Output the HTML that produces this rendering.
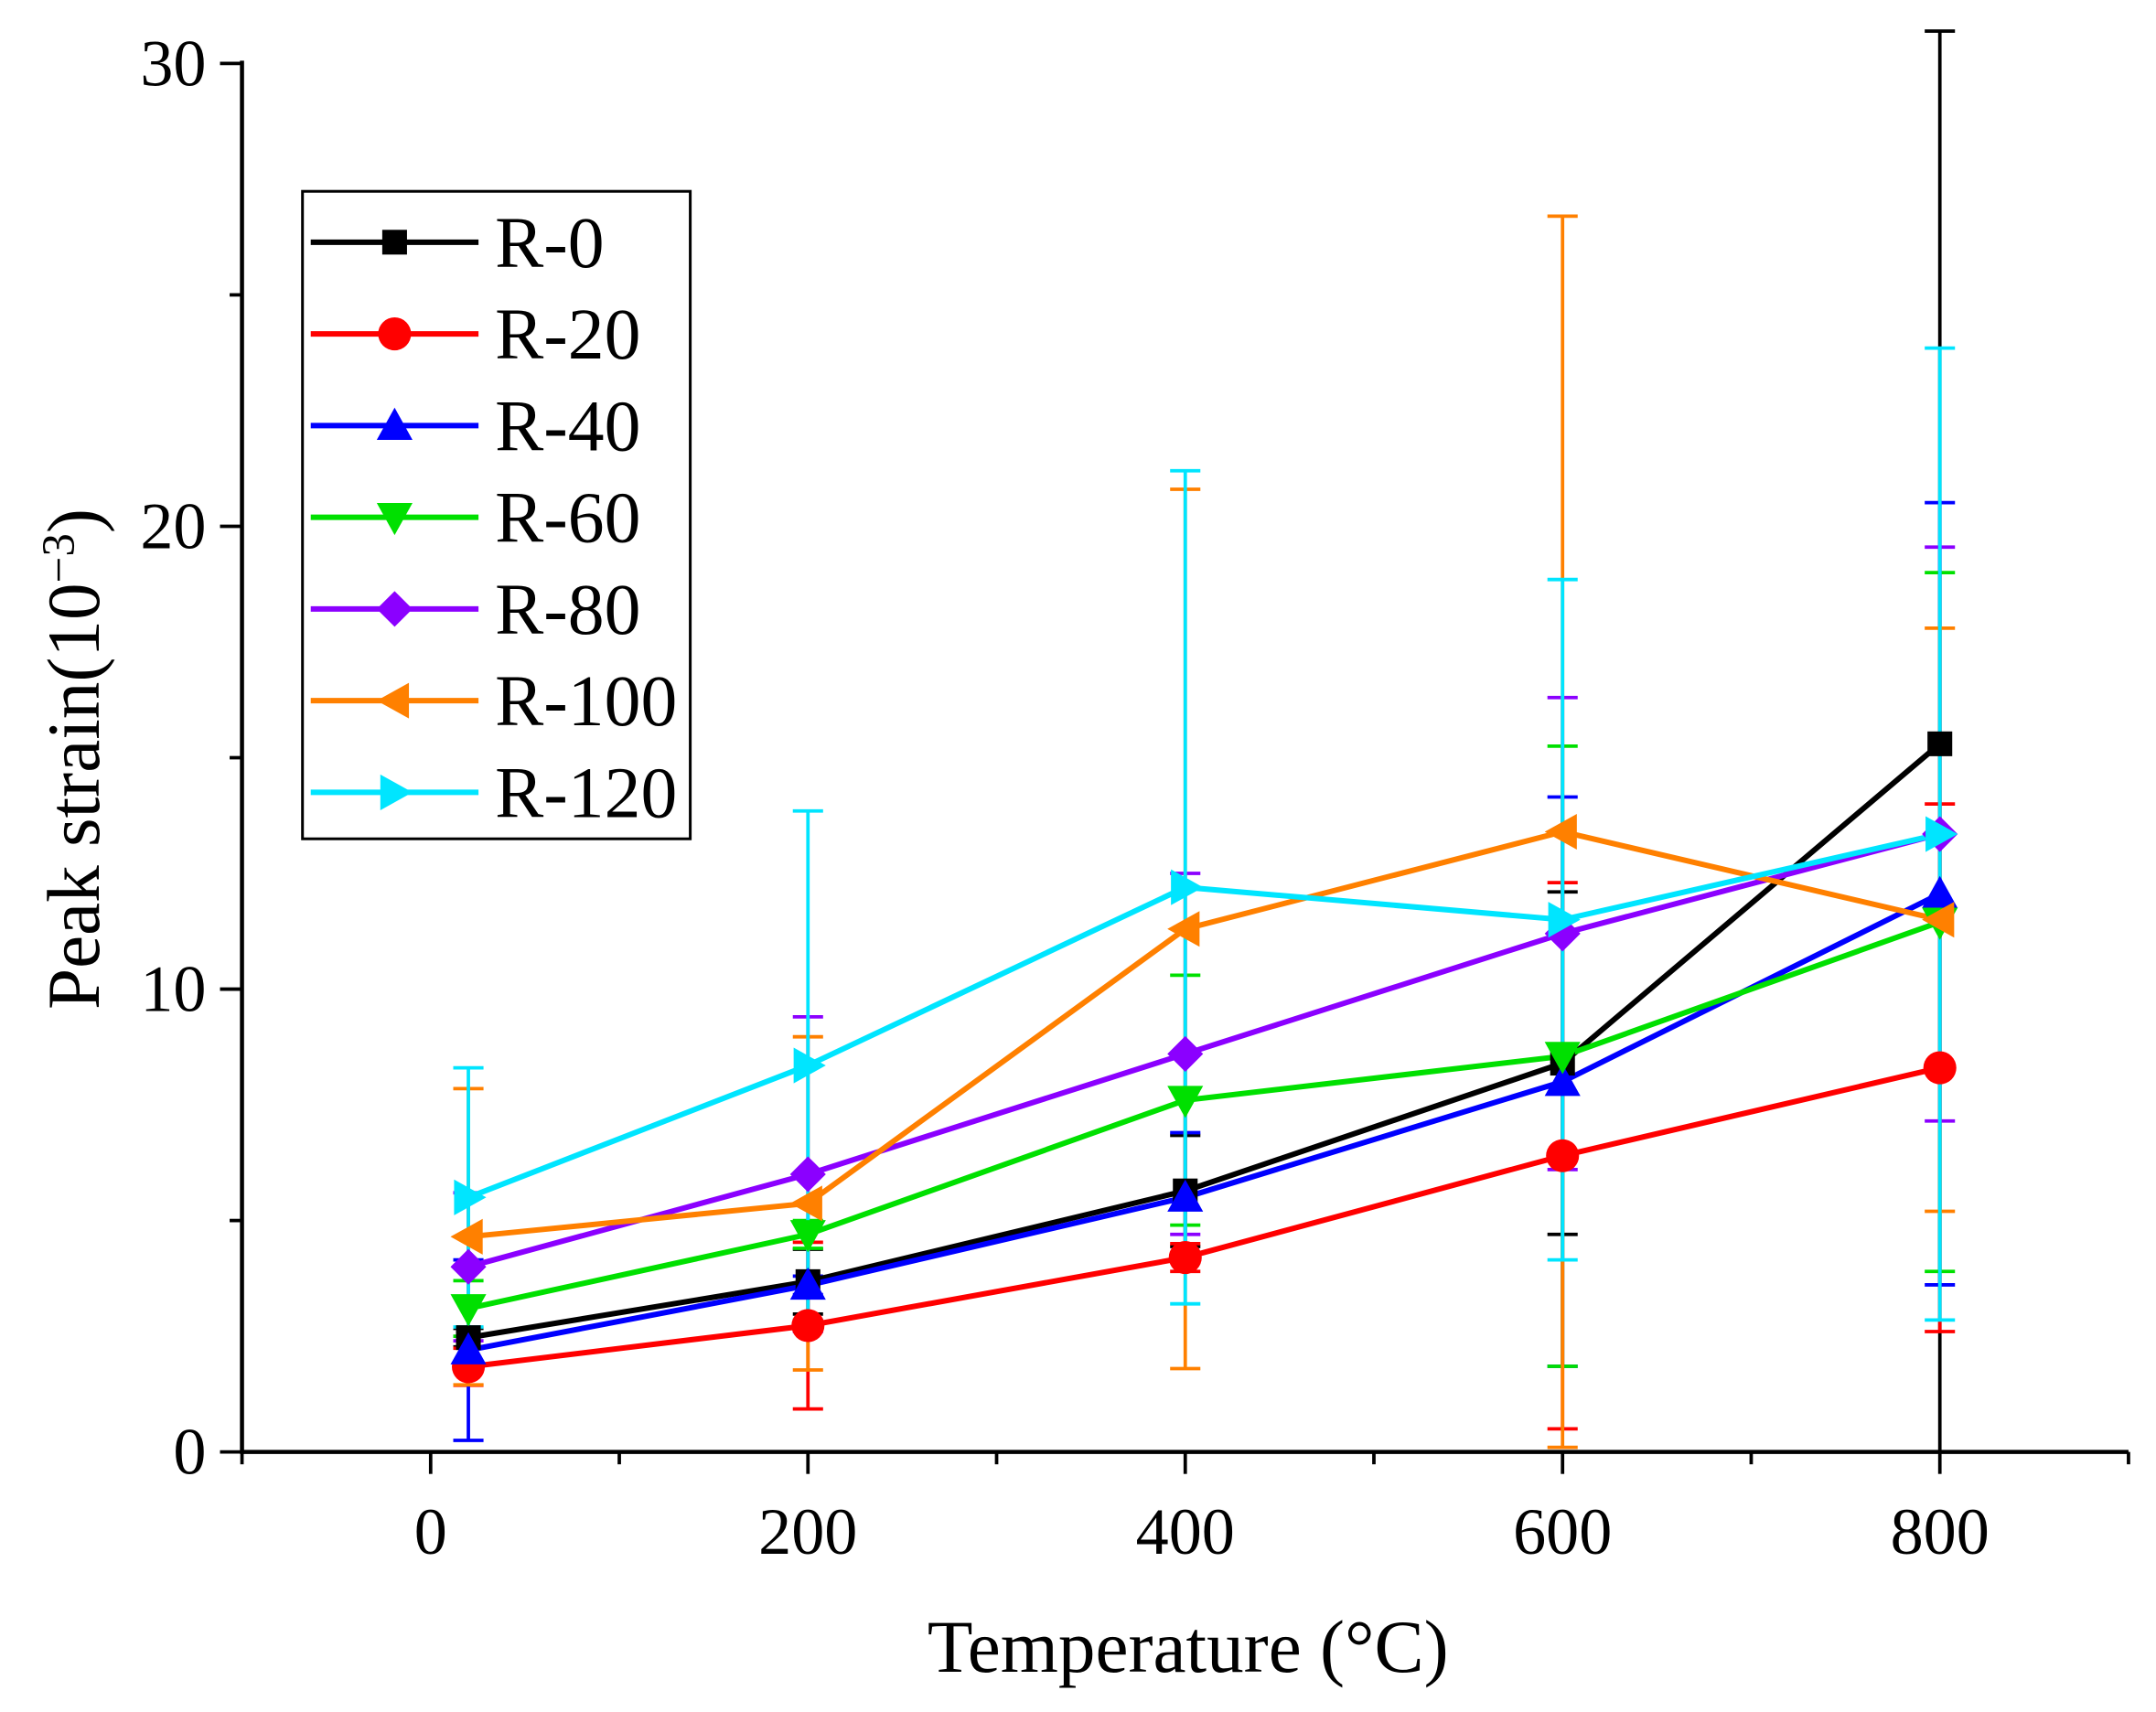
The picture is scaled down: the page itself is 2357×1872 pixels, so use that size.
<!DOCTYPE html>
<html><head><meta charset="utf-8"><style>
html,body{margin:0;padding:0;background:#fff;}
svg{display:block;font-family:"Liberation Serif",serif;}
</style></head><body>
<svg id="chart" width="2357" height="1872" viewBox="0 0 1568 1245" xmlns="http://www.w3.org/2000/svg">
<g id="errs"></g>
<g id="lines"></g>
<g id="marks"></g>
<g id="axes"></g>
<g id="legend"></g>
</svg>
<script>
const temps = [20, 200, 400, 600, 800];
const seriesNames = ["R-0","R-20","R-40","R-60","R-80","R-100","R-120"];
const seriesColors = ["#000000","#ff0000","#0000ff","#00e000","#8b00ff","#ff8000","#00e5ff"];
const seriesMarkers = ["square","circle","up","down","diamond","left","right"];
const r0 = [2.47, 3.68, 5.64, 8.4, 15.3];
const r20 = [1.84, 2.73, 4.2, 6.4, 8.3];
const r40 = [2.2, 3.6, 5.5, 8.0, 12.06];
const r60 = [3.1, 4.7, 7.6, 8.55, 11.45];
const r80 = [4.0, 6.0, 8.6, 11.2, 13.35];
const r100 = [4.65, 5.37, 11.3, 13.4, 11.5];
const r120 = [5.5, 8.35, 12.2, 11.5, 13.35];
const e0 = [0.2, 0.7, 1.2, 3.7, 15.4];
const e20 = [0.4, 1.8, 0.3, 5.9, 5.7];
const e40 = [1.95, 0.2, 1.4, 6.15, 8.45];
const e60 = [0.6, 0.3, 2.7, 6.7, 7.55];
const e80 = [1.6, 3.4, 3.9, 5.1, 6.2];
const e100 = [3.2, 3.6, 9.5, 13.3, 6.3];
const e120 = [2.8, 5.5, 9.0, 7.35, 10.5];
const xTicks = [0, 200, 400, 600, 800];
const yTicks = [0, 10, 20, 30];

const values = [r0,r20,r40,r60,r80,r100,r120];
const errors = [e0,e20,e40,e60,e80,e100,e120];
const NS = "http://www.w3.org/2000/svg";
const X0 = 176, X1 = 1548, Y0 = 1056, Y1 = 46;
const xs = v => X0 + (v + 100) / 1000 * (X1 - X0);
const ys = v => Y0 - v / 30 * (Y0 - Y1);
function mk(tag, attrs, parent){const e=document.createElementNS(NS,tag);for(const k in attrs)e.setAttribute(k,attrs[k]);parent.appendChild(e);return e;}
function marker(type, cx, cy, color, parent){
  const s=13; let el;
  if(type==="square") el=mk("rect",{x:cx-9,y:cy-9,width:18,height:18,fill:color},parent);
  else if(type==="circle") el=mk("circle",{cx:cx,cy:cy,r:12,fill:color},parent);
  else {
    let p;
    if(type==="up") p=[[0,-s],[s,s*0.8],[-s,s*0.8]];
    else if(type==="down") p=[[0,s],[s,-s*0.8],[-s,-s*0.8]];
    else if(type==="diamond") p=[[0,-s],[s,0],[0,s],[-s,0]];
    else if(type==="left") p=[[-s,0],[s*0.8,-s],[s*0.8,s]];
    else p=[[s,0],[-s*0.8,-s],[-s*0.8,s]];
    el=mk("polygon",{points:p.map(q=>(cx+q[0])+","+(cy+q[1])).join(" "),fill:color},parent);
  }
  return el;
}
const gE=document.getElementById("errs"), gL=document.getElementById("lines"), gM=document.getElementById("marks");
values.forEach((vals,si)=>{
  const c=seriesColors[si];
  vals.forEach((v,i)=>{
    const x=xs(temps[i]), hi=ys(v+errors[si][i]), lo=ys(Math.max(0,v-errors[si][i]));
    const g=mk("g",{stroke:c,"stroke-width":2.5},gE);
    
    
    mk("line",{x1:x,x2:x,y1:hi,y2:lo},g);
    mk("line",{x1:x-11,x2:x+11,y1:hi,y2:hi},g);
    mk("line",{x1:x-11,x2:x+11,y1:lo,y2:lo},g);
  });
  const pl=mk("polyline",{points:vals.map((v,i)=>xs(temps[i])+","+ys(v)).join(" "),fill:"none",stroke:c,"stroke-width":4},gL);
  
  
  vals.forEach((v,i)=>{
    const m=marker(seriesMarkers[si],xs(temps[i]),ys(v),c,gM);
    
    
  });
});
const gA=document.getElementById("axes");
mk("line",{x1:X0,x2:X1,y1:Y0,y2:Y0,stroke:"#000","stroke-width":3},gA);
mk("line",{x1:X0,x2:X0,y1:Y0+1.5,y2:Y1-2,stroke:"#000","stroke-width":3},gA);
for(let v=-100;v<=900;v+=100){
  const major=xTicks.includes(v);
  mk("line",{x1:xs(v),x2:xs(v),y1:Y0,y2:Y0+(major?16:9),stroke:"#000","stroke-width":2.5},gA);
}
xTicks.forEach(v=>{const t=mk("text",{x:xs(v),y:Y0+74,"font-size":48,"text-anchor":"middle"},gA);t.textContent=v;
  });
for(let v=0;v<=30;v+=5){
  const major=yTicks.includes(v);
  mk("line",{x1:X0,x2:X0-(major?16:9),y1:ys(v),y2:ys(v),stroke:"#000","stroke-width":2.5},gA);
}
yTicks.forEach(v=>{const t=mk("text",{x:X0-26,y:ys(v)+16,"font-size":48,"text-anchor":"end"},gA);t.textContent=v;
  });
const xt=mk("text",{x:864,y:1216,"font-size":54,"text-anchor":"middle"},gA);
xt.textContent="Temperature (°C)";

const yt=mk("text",{x:0,y:0,"font-size":54,"text-anchor":"middle",transform:"translate(72,552) rotate(-90)"},gA);
yt.innerHTML='Peak strain(10<tspan dy="-18" font-size="34">−3</tspan><tspan dy="18">)</tspan>';

const gG=document.getElementById("legend");
mk("rect",{x:220,y:139,width:282,height:471,fill:"#fff",stroke:"#000","stroke-width":2},gG);
seriesNames.forEach((n,i)=>{
  const y=176+i*66.7, c=seriesColors[i];
  const g=mk("g",{},gG);
  
  mk("line",{x1:226,x2:348,y1:y,y2:y,stroke:c,"stroke-width":4},g);
  marker(seriesMarkers[i],287,y,c,g);
  const t=mk("text",{x:360,y:y+18,"font-size":53},g);t.textContent=n;
});
</script>
</body></html>
